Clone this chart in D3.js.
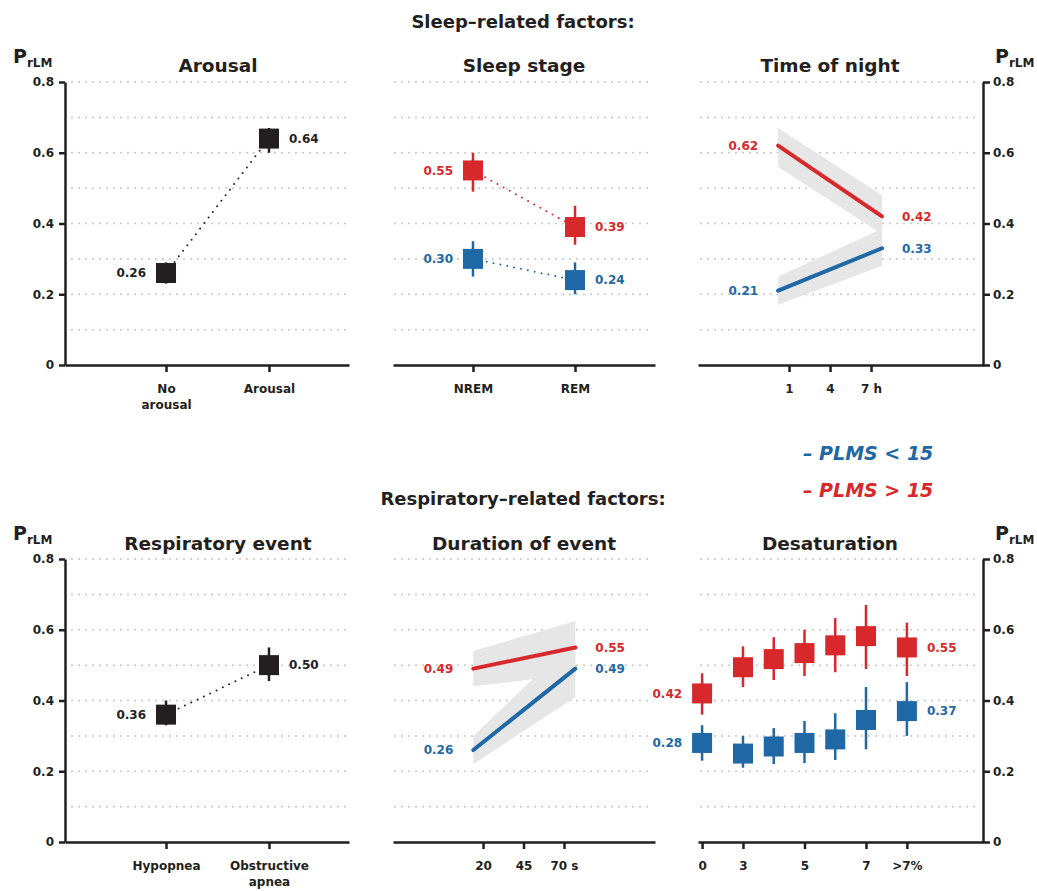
<!DOCTYPE html>
<html>
<head>
<meta charset="utf-8">
<script src="https://cdn.jsdelivr.net/npm/d3@7"></script>
<style>
  body { margin: 0; background: #fff; }
  svg text { font-family: "DejaVu Sans", sans-serif; font-weight: bold; fill: #231f20; }
</style>
</head>
<body>
<div id="chart"></div>
<script>
// ---- data ----
var yTicks = [0, 0.2, 0.4, 0.6, 0.8];
var yGrid = [0.1, 0.2, 0.3, 0.4, 0.5, 0.6, 0.7, 0.8];

// Arousal
var arousalCats = ["No arousal", "Arousal"];
var arousalMean = [0.26, 0.64];
var arousalLo = [0.23, 0.60];
var arousalHi = [0.29, 0.67];

// Sleep stage
var stageCats = ["NREM", "REM"];
var stageLowMean = [0.30, 0.24];
var stageLowLo = [0.25, 0.20];
var stageLowHi = [0.35, 0.29];
var stageHighMean = [0.55, 0.39];
var stageHighLo = [0.49, 0.34];
var stageHighHi = [0.60, 0.45];

// Time of night (h)
var nightHours = [0.2, 7.8];
var nightTicks = [1, 4, 7];
var nightLowMean = [0.21, 0.33];
var nightLowBandLo = [0.17, 0.28];
var nightLowBandHi = [0.25, 0.385];
var nightHighMean = [0.62, 0.42];
var nightHighBandLo = [0.56, 0.37];
var nightHighBandHi = [0.67, 0.48];

// Respiratory event
var respCats = ["Hypopnea", "Obstructive apnea"];
var respMean = [0.36, 0.50];
var respLo = [0.33, 0.455];
var respHi = [0.40, 0.55];

// Duration of event (s)
var durSec = [14, 77];
var durTicks = [20, 45, 70];
var durLowMean = [0.26, 0.49];
var durLowBandLo = [0.22, 0.41];
var durLowBandHi = [0.30, 0.575];
var durHighMean = [0.49, 0.55];
var durHighBandLo = [0.44, 0.475];
var durHighBandHi = [0.54, 0.625];

// Desaturation (%), ">7%" placed one step past 7, "0" one step before 3
var desatLevel = [1.67, 3, 4, 5, 6, 7, 8.33];
var desatTicks = [1.67, 3, 5, 7, 8.33];
var desatTickLabels = ["0", "3", "5", "7", ">7%"];
var desatLowMean = [0.28, 0.25, 0.27, 0.28, 0.29, 0.345, 0.37];
var desatLowLo = [0.23, 0.21, 0.22, 0.223, 0.232, 0.262, 0.30];
var desatLowHi = [0.33, 0.30, 0.322, 0.342, 0.364, 0.438, 0.452];
var desatHighMean = [0.42, 0.494, 0.517, 0.534, 0.556, 0.582, 0.55];
var desatHighLo = [0.36, 0.438, 0.458, 0.469, 0.48, 0.489, 0.469];
var desatHighHi = [0.477, 0.553, 0.579, 0.60, 0.633, 0.67, 0.62];

// ---- styles ----
var ink = "#231f20", red = "#d7282c", blue = "#1e68a5";
var bandGrey = "#e6e6e6", gridGrey = "#c4c4c4";
var fmt2 = d3.format(".2f");

var svg = d3.select("#chart").append("svg")
    .attr("width", 1037)
    .attr("height", 891);

var cols = [
    {x0: 65, x1: 349, grid0: 72, grid1: 349, titleX: 218},
    {x0: 393, x1: 655, grid0: 395, grid1: 653, titleX: 524},
    {x0: 698, x1: 983, grid0: 701, grid1: 976, titleX: 830}
];
var rows = [
    {y0: 365, y1: 82, titleY: 72, pY: 63},
    {y0: 842, y1: 559, titleY: 550, pY: 540}
];

// panel frame: grid, axes, title
var frame = function(row, col, title, x, yAxisSide, tickValues, tickFormat) {
    var y = d3.scaleLinear().domain([0, 0.8]).range([row.y0, row.y1]);
    var g = svg.append("g");

    g.selectAll("line.grid")
        .data(yGrid)
        .enter().append("line")
        .attr("class", "grid")
        .attr("x1", col.grid0).attr("x2", col.grid1)
        .attr("y1", function(d) { return y(d); })
        .attr("y2", function(d) { return y(d); })
        .attr("stroke", gridGrey)
        .attr("stroke-width", 2)
        .attr("stroke-linecap", "round")
        .attr("stroke-dasharray", "0,7");

    var xAxis = d3.axisBottom(x).tickSize(7).tickSizeOuter(0).tickPadding(12);
    if (tickValues) xAxis.tickValues(tickValues);
    if (tickFormat) xAxis.tickFormat(tickFormat);

    var ax = g.append("g")
        .attr("transform", "translate(0," + row.y0 + ")")
        .call(xAxis)
        .attr("font-size", 12);
    ax.select(".domain").attr("stroke", ink).attr("stroke-width", 2.5);
    ax.selectAll(".tick line").attr("stroke", ink).attr("stroke-width", 2.5);

    // two-line category labels
    ax.selectAll(".tick text").each(function(d) {
        if (typeof d !== "string") return;
        var words = d.split(" ");
        if (words.length < 2) return;
        var t = d3.select(this).text(null);
        words.forEach(function(w, i) {
            t.append("tspan").attr("x", 0).attr("dy", i === 0 ? "0.71em" : "1.4em").text(w);
        });
        t.attr("dy", null);
    });

    var fmtY = function(d) { return d === 0 ? "0" : d3.format(".1f")(d); };
    if (yAxisSide === "left" || yAxisSide === "right") {
        var yAxis = (yAxisSide === "left" ? d3.axisLeft(y).tickSize(6).tickPadding(5)
                                          : d3.axisRight(y).tickSize(7).tickPadding(3))
            .tickValues(yTicks).tickSizeOuter(0).tickFormat(fmtY);
        var ay = g.append("g")
            .attr("transform", "translate(" + (yAxisSide === "left" ? col.x0 : col.x1) + ",0)")
            .call(yAxis)
            .attr("font-size", 12);
        ay.select(".domain").attr("stroke", ink).attr("stroke-width", 2.5);
        ay.selectAll(".tick line").attr("stroke", ink).attr("stroke-width", 2.5);

        var p = g.append("text")
            .attr("x", yAxisSide === "left" ? 13 : 995)
            .attr("y", row.pY);
        p.append("tspan").style("font-size", "19px").text("P");
        p.append("tspan").style("font-size", "12px").attr("dy", 4).text("rLM");
    }

    g.append("text")
        .attr("x", col.titleX)
        .attr("y", row.titleY)
        .attr("text-anchor", "middle")
        .style("font-size", "18.5px")
        .text(title);

    return {g: g, y: y};
};

var band = function(g, x, y, xs, lo, hi) {
    var pts = xs.map(function(d, i) { return {x: d, lo: lo[i], hi: hi[i]}; });
    var area = d3.area()
        .x(function(d) { return x(d.x); })
        .y0(function(d) { return y(d.lo); })
        .y1(function(d) { return y(d.hi); });
    g.append("path").attr("d", area(pts)).attr("fill", bandGrey);
};

var trend = function(g, x, y, xs, means, color) {
    var line = d3.line()
        .x(function(d, i) { return x(xs[i]); })
        .y(function(d) { return y(d); });
    g.append("path")
        .attr("d", line(means))
        .attr("fill", "none")
        .attr("stroke", color)
        .attr("stroke-width", 4)
        .attr("stroke-linecap", "round");
};

var points = function(g, x, y, xs, means, lo, hi, color, connect) {
    if (connect) {
        var line = d3.line()
            .x(function(d, i) { return x(xs[i]); })
            .y(function(d) { return y(d); });
        g.append("path")
            .attr("d", line(means))
            .attr("fill", "none")
            .attr("stroke", color)
            .attr("stroke-width", 2)
            .attr("stroke-linecap", "round")
            .attr("stroke-dasharray", "0,7");
    }
    xs.forEach(function(v, i) {
        g.append("line")
            .attr("x1", x(v)).attr("x2", x(v))
            .attr("y1", y(lo[i])).attr("y2", y(hi[i]))
            .attr("stroke", color)
            .attr("stroke-width", 2.5);
        g.append("rect")
            .attr("x", x(v) - 10)
            .attr("y", y(means[i]) - 10)
            .attr("width", 20)
            .attr("height", 20)
            .attr("fill", color);
    });
};

var endLabels = function(g, x, y, xs, means, color) {
    var n = xs.length - 1;
    g.append("text")
        .attr("x", x(xs[0]) - 20)
        .attr("y", y(means[0]))
        .attr("dy", "0.36em")
        .attr("text-anchor", "end")
        .style("font-size", "12px")
        .style("fill", color)
        .text(fmt2(means[0]));
    g.append("text")
        .attr("x", x(xs[n]) + 20)
        .attr("y", y(means[n]))
        .attr("dy", "0.36em")
        .attr("text-anchor", "start")
        .style("font-size", "12px")
        .style("fill", color)
        .text(fmt2(means[n]));
};

// ---- section titles ----
svg.append("text").attr("x", 523).attr("y", 28).attr("text-anchor", "middle")
    .style("font-size", "18px").text("Sleep\u2013related factors:");
svg.append("text").attr("x", 523).attr("y", 505).attr("text-anchor", "middle")
    .style("font-size", "18px").text("Respiratory\u2013related factors:");

// ---- legend ----
svg.append("text").attr("x", 803).attr("y", 460)
    .style("font-size", "19px").style("font-style", "italic").style("fill", blue)
    .text("\u2013 PLMS < 15");
svg.append("text").attr("x", 803).attr("y", 497)
    .style("font-size", "19px").style("font-style", "italic").style("fill", red)
    .text("\u2013 PLMS > 15");

// ---- Arousal ----
var xArousal = d3.scalePoint().domain(arousalCats).range([cols[0].x0, cols[0].x1]).padding(0.879).align(0.558);
var p1 = frame(rows[0], cols[0], "Arousal", xArousal, "left");
points(p1.g, xArousal, p1.y, arousalCats, arousalMean, arousalLo, arousalHi, ink, true);
endLabels(p1.g, xArousal, p1.y, arousalCats, arousalMean, ink);

// ---- Sleep stage ----
var xStage = d3.scalePoint().domain(stageCats).range([cols[1].x0, cols[1].x1]).padding(0.784);
var p2 = frame(rows[0], cols[1], "Sleep stage", xStage, "none");
points(p2.g, xStage, p2.y, stageCats, stageHighMean, stageHighLo, stageHighHi, red, true);
points(p2.g, xStage, p2.y, stageCats, stageLowMean, stageLowLo, stageLowHi, blue, true);
endLabels(p2.g, xStage, p2.y, stageCats, stageHighMean, red);
endLabels(p2.g, xStage, p2.y, stageCats, stageLowMean, blue);

// ---- Time of night ----
var xNight = d3.scaleLinear().domain([-5.66, 15.19]).range([cols[2].x0, cols[2].x1]);
var p3 = frame(rows[0], cols[2], "Time of night", xNight, "right", nightTicks,
    function(d) { return d === 7 ? "7 h" : String(d); });
band(p3.g, xNight, p3.y, nightHours, nightHighBandLo, nightHighBandHi);
band(p3.g, xNight, p3.y, nightHours, nightLowBandLo, nightLowBandHi);
trend(p3.g, xNight, p3.y, nightHours, nightHighMean, red);
trend(p3.g, xNight, p3.y, nightHours, nightLowMean, blue);
endLabels(p3.g, xNight, p3.y, nightHours, nightHighMean, red);
endLabels(p3.g, xNight, p3.y, nightHours, nightLowMean, blue);

// ---- Respiratory event ----
var xResp = d3.scalePoint().domain(respCats).range([cols[0].x0, cols[0].x1]).padding(0.879).align(0.558);
var p4 = frame(rows[1], cols[0], "Respiratory event", xResp, "left");
points(p4.g, xResp, p4.y, respCats, respMean, respLo, respHi, ink, true);
endLabels(p4.g, xResp, p4.y, respCats, respMean, ink);

// ---- Duration of event ----
var xDur = d3.scaleLinear().domain([-35.6, 126.2]).range([cols[1].x0, cols[1].x1]);
var p5 = frame(rows[1], cols[1], "Duration of event", xDur, "none", durTicks,
    function(d) { return d === 70 ? "70 s" : String(d); });
band(p5.g, xDur, p5.y, durSec, durHighBandLo, durHighBandHi);
band(p5.g, xDur, p5.y, durSec, durLowBandLo, durLowBandHi);
trend(p5.g, xDur, p5.y, durSec, durHighMean, red);
trend(p5.g, xDur, p5.y, durSec, durLowMean, blue);
endLabels(p5.g, xDur, p5.y, durSec, durHighMean, red);
endLabels(p5.g, xDur, p5.y, durSec, durLowMean, blue);

// ---- Desaturation ----
var xDesat = d3.scaleLinear().domain([1.537, 10.805]).range([cols[2].x0, cols[2].x1]);
var p6 = frame(rows[1], cols[2], "Desaturation", xDesat, "right", desatTicks,
    function(d, i) { return desatTickLabels[i]; });
points(p6.g, xDesat, p6.y, desatLevel, desatHighMean, desatHighLo, desatHighHi, red, false);
points(p6.g, xDesat, p6.y, desatLevel, desatLowMean, desatLowLo, desatLowHi, blue, false);
endLabels(p6.g, xDesat, p6.y, desatLevel, desatHighMean, red);
endLabels(p6.g, xDesat, p6.y, desatLevel, desatLowMean, blue);
</script>
</body>
</html>
